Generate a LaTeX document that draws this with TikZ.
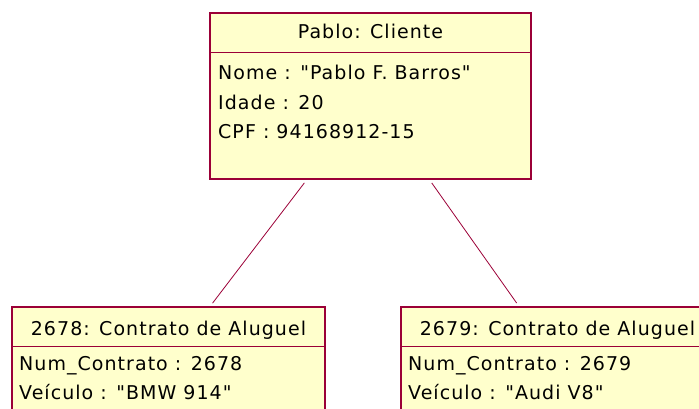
\documentclass[tikz,border=0pt]{standalone}
\usepackage{fontspec}
\newfontfamily\umlfont[LetterSpace=5.5]{DejaVu Sans}
\usepackage{tikz}
\definecolor{objborder}{RGB}{155,0,55}
\definecolor{objfill}{RGB}{255,255,204}
\tikzstyle{object}=[draw=objborder,fill=objfill,line width=1.4pt,inner sep=0pt]
\tikzstyle{objtitle}=[anchor=base,inner sep=0pt,font=\umlfont\fontsize{19}{23}\selectfont]
\tikzstyle{attr}=[anchor=base west,inner sep=0pt,font=\umlfont\fontsize{19}{23}\selectfont]
\tikzstyle{divider}=[draw=objborder,line width=1.4pt]
\tikzstyle{link}=[draw=objborder,line width=0.8pt,shorten <=4pt,shorten >=4pt]
\begin{document}
\begin{tikzpicture}[x=1pt,y=1pt]
\useasboundingbox (0,0) rectangle (699,409);
\clip (0,0) rectangle (699,409);
% objects
\node[object,minimum width=321pt,minimum height=166pt] (pablo) at (370.5,313) {};
\node[object,minimum width=313pt,minimum height=108pt] (c2678) at (168.5,48) {};
\node[object,minimum width=313pt,minimum height=108pt] (c2679) at (557.5,48) {};
\draw[divider] ([yshift=-40pt]pablo.north west) -- ([yshift=-40pt]pablo.north east);
\draw[divider] ([yshift=-40pt]c2678.north west) -- ([yshift=-40pt]c2678.north east);
\draw[divider] ([yshift=-40pt]c2679.north west) -- ([yshift=-40pt]c2679.north east);
% links
\draw[link] (pablo) -- (c2678);
\draw[link] (pablo) -- (c2679);
% texts
\node[objtitle] (pablot) at (370.5,370) {Pablo: Cliente};
\node[attr] (nome) at (218,329) {Nome : "Pablo F. Barros"};
\node[attr] (idade) at (218,299) {Idade : 20};
\node[attr] (cpf) at (218,270) {CPF : 94168912-15};
\node[objtitle] (c2678t) at (168.5,73) {2678: Contrato de Aluguel};
\node[attr] (num2678) at (19,38) {Num\_Contrato : 2678};
\node[attr] (vei2678) at (19,9) {Veículo : "BMW 914"};
\node[objtitle] (c2679t) at (557.5,73) {2679: Contrato de Aluguel};
\node[attr] (num2679) at (408,38) {Num\_Contrato : 2679};
\node[attr] (vei2679) at (408,9) {Veículo : "Audi V8"};
\end{tikzpicture}
\end{document}
